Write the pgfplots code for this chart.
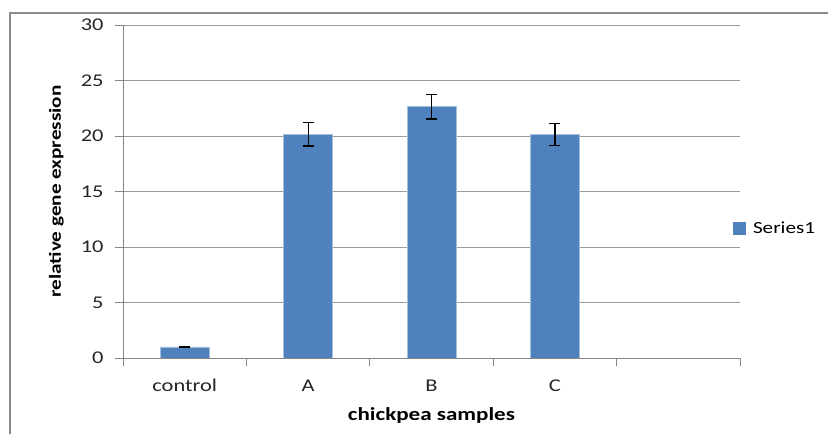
\documentclass[border=0pt]{standalone}
\usepackage{fontspec}
\setmainfont{Carlito}[FakeStretch=1.25]
\usepackage{pgfplots}
\pgfplotsset{compat=1.18}
\definecolor{barblue}{HTML}{4F81BD}
\definecolor{baredge}{HTML}{A7BFDE}
\definecolor{gridgray}{HTML}{9A9A9A}
\definecolor{axisgray}{HTML}{868686}
\definecolor{framegray}{HTML}{8C8C8C}
\begin{document}
\begin{tikzpicture}
\path[use as bounding box] (0,0) rectangle (828bp,434bp);
\draw[framegray, line width=2bp] (10bp,0) -- (10bp,420.5bp) -- (828bp,420.5bp);
\begin{axis}[
  at={(123bp,76bp)}, anchor=south west,
  scale only axis,
  width=617bp, height=333bp,
  xmin=-0.5, xmax=4.5,
  ymin=0, ymax=30,
  axis x line*=bottom, axis y line*=left,
  axis line style={axisgray, line width=0.8bp},
  xtick={0,1,2,3}, xticklabels={control,A,B,C},
  minor xtick={-0.5,0.5,1.5,2.5,3.5,4.5},
  major x tick style={draw=none},
  minor x tick style={axisgray, line width=0.8bp},
  ytick={0,5,...,30},
  y tick style={axisgray, line width=0.8bp},
  tick align=outside,
  major tick length=8bp, minor tick length=8bp,
  ymajorgrids,
  grid style={gridgray, line width=0.8bp},
  /pgf/number format/assume math mode=true,
  tick label style={font=\fontsize{18}{21}\selectfont, text=black!85},
  xticklabel style={anchor=base, yshift=-25bp},
  yticklabel style={anchor=east, xshift=-8bp},
  ylabel={\bfseries relative gene expression},
  xlabel={\bfseries chickpea samples},
  label style={font=\fontsize{17}{20}\selectfont},
  ylabel style={at={(axis description cs:-0.108,0.5)}, anchor=center},
  xlabel style={at={(axis description cs:0.5,-0.174)}, anchor=center, font=\fontsize{18.5}{21}\selectfont},
  legend style={draw=none, fill=none, at={(axis description cs:0.989,0.39)}, anchor=west,
    font=\fontsize{17}{20}\selectfont, inner sep=0pt, legend cell align=left},
  legend image code/.code={\fill[barblue] (0bp,-6bp) rectangle (12bp,6bp);},
]
\addplot[ybar, bar width=49bp, fill=barblue, draw=baredge, line width=0.6bp,
  error bars/.cd, y dir=both, y explicit,
  error bar style={black, line width=1.2bp},
  error mark options={rotate=90, mark size=5.5bp, line width=1.2bp, black}]
  coordinates {
  (0,1.0) +- (0,0.05)
  (1,20.15) +- (0,1.05)
  (2,22.65) +- (0,1.12)
  (3,20.12) +- (0,1.0)
  };
\addlegendentry{\hspace{5bp}Series1}
\end{axis}
\end{tikzpicture}
\end{document}
